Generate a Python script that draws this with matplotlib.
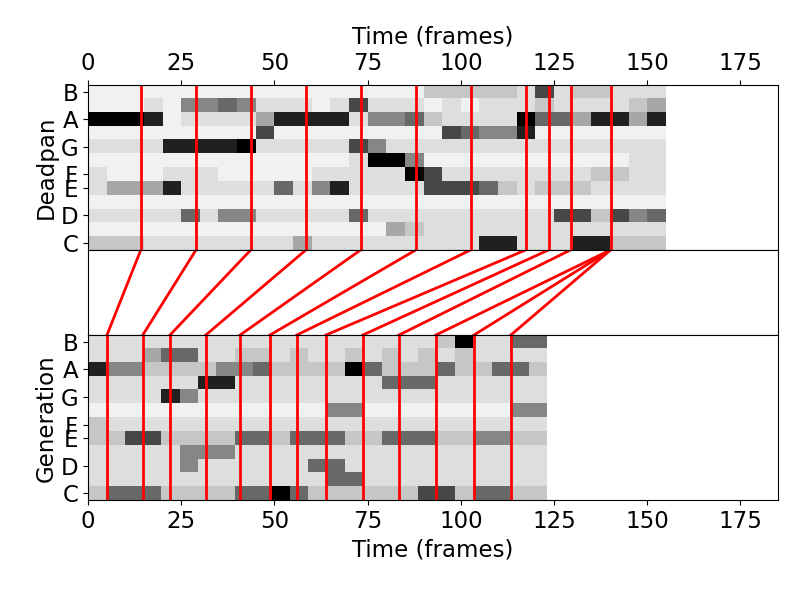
import numpy as np
import matplotlib
matplotlib.use("Agg")
import matplotlib.pyplot as plt

# rows listed top (B) to bottom (C); each char = darkness 0-9 over 5 frames
top_rows = [
    "1111111111111111113333327233222",
    "11121" "5" "565" "22212" "7" "22212122" "23222234",
    "9998" "1" "2222" "4" "8888" "2" "55" "63" "2222" "9" "66" "4" "88" "4" "8",
    "111111111" "7" "111111111" "7" "6" "55" "8" "1111111",
    "2222" "88889" "22222" "7" "5" "222222222222222",
    "111111111111112" "99" "5" "1111111111122",
    "21112221111122222" "9" "7" "222222223322",
    "2444" "8" "22222" "6" "2" "5" "8" "2222" "777" "6" "3" "23332222",
    "1111111111111111111111111111111",
    "22222" "6" "2" "55" "22222" "6" "2222222222" "77" "3" "7" "5" "6",
    "1111111111111111" "4" "3" "2222222222222",
    "333" "22222222" "4" "222222222" "88" "222" "88" "333",
]
bot_rows = [
    "2222222222222222222" "3" "9" "22" "66",
    "222" "4" "66" "2233232232323232222",
    "8553333" "556" "3333" "96" "333" "6" "33" "66" "3",
    "222222" "88" "22222222" "666" "222222",
    "2222" "85" "2222222222222222222",
    "1111111111111" "55" "11111111" "55",
    "3" + "2" * 24,
    "33" "77" "3333" "66" "3" "666" "33" "666" "33" "55" "33",
    "22222" "555" + "2" * 17,
    "22222" "5" "222222" "66" + "2" * 11,
    "2" * 13 + "66" + "2" * 10,
    "3" "666" "3333" "66" "96" "333333" "77" "3" "66" "33",
]
top_len = 155
bot_len = 123
top_marks = [14.2, 29, 43.7, 58.5, 73.2, 88, 102.7, 117.5, 123.6, 129.5, 140.2]
bot_marks = [5.1, 14.7, 22, 31.6, 40.8, 48.8, 56, 63.8, 73.7, 83.4, 93.3, 103.5, 113.4]
pairs_top = [14.2, 29, 43.7, 58.5, 73.2, 88, 102.7, 117.5, 123.6, 129.5, 140.2, 140.2, 140.2]
pairs_bot = bot_marks
ytick_pos = [0, 2, 4, 5, 7, 9, 11]
ytick_lab = ["C", "D", "E", "F", "G", "A", "B"]

def to_arr(rows):
    a = np.array([[int(c) for c in r] for r in rows], dtype=float)
    return a[::-1]  # C at row 0

plt.rcParams['font.size'] = 16.5
fig = plt.figure(figsize=(7.92, 5.92), dpi=100)
L, W, H = 0.111, 0.871, 0.279
ax1 = fig.add_axes([L, 0.578, W, H])
axm = fig.add_axes([L, 0.434, W, 0.144])
ax2 = fig.add_axes([L, 0.155, W, H])
xmax = 185

for ax, rows, n, marks, lab in [(ax1, top_rows, top_len, top_marks, "Deadpan"),
                                (ax2, bot_rows, bot_len, bot_marks, "Generation")]:
    ax.imshow(to_arr(rows), cmap="Greys", vmin=0, vmax=9, aspect="auto",
              origin="lower", extent=[0, n, -0.5, 11.5], interpolation="nearest")
    for m in marks:
        ax.axvline(m, color="red", lw=2)
    ax.set_xlim(0, xmax)
    ax.set_ylim(-0.5, 11.5)
    ax.set_yticks(ytick_pos)
    ax.set_yticklabels(ytick_lab)
    ax.set_ylabel(lab, labelpad=2)
    ax.set_xticks([0, 25, 50, 75, 100, 125, 150, 175])

ax1.xaxis.tick_top()
ax1.xaxis.set_label_position("top")
ax1.set_xlabel("Time (frames)", labelpad=6)
ax2.set_xlabel("Time (frames)", labelpad=4)

for t, b in zip(pairs_top, pairs_bot):
    axm.plot([t, b], [1, 0], color="red", lw=2)
axm.set_xlim(0, xmax)
axm.set_ylim(0, 1)
axm.set_xticks([])
axm.set_yticks([])

fig.savefig("out.png", dpi=100)
